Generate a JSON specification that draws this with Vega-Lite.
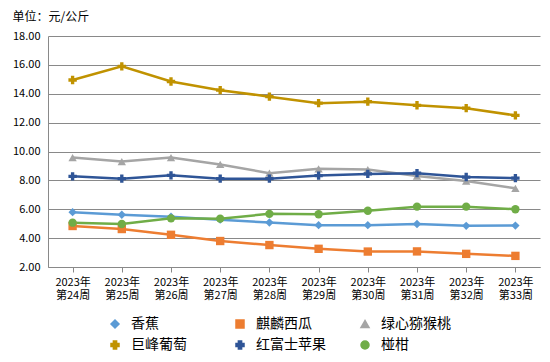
{
  "$schema": "https://vega.github.io/schema/vega-lite/v6.json",
  "width": 492,
  "height": 231,
  "autosize": "none",
  "padding": {"left": 48, "top": 36, "right": 10, "bottom": 95},
  "background": "white",
  "title": {"text": "单位：元/公斤", "anchor": "start", "frame": "bounds", "fontSize": 12, "fontWeight": "normal", "color": "#000000", "offset": 6},
  "config": {
    "font": "Noto Sans CJK SC",
    "view": {"stroke": null}
  },
  "data": {"values": [
    {"week": "2023年第24周", "series": "香蕉", "value": 5.8},
    {"week": "2023年第25周", "series": "香蕉", "value": 5.62},
    {"week": "2023年第26周", "series": "香蕉", "value": 5.48},
    {"week": "2023年第27周", "series": "香蕉", "value": 5.28},
    {"week": "2023年第28周", "series": "香蕉", "value": 5.08},
    {"week": "2023年第29周", "series": "香蕉", "value": 4.9},
    {"week": "2023年第30周", "series": "香蕉", "value": 4.9},
    {"week": "2023年第31周", "series": "香蕉", "value": 4.98},
    {"week": "2023年第32周", "series": "香蕉", "value": 4.85},
    {"week": "2023年第33周", "series": "香蕉", "value": 4.87},
    {"week": "2023年第24周", "series": "麒麟西瓜", "value": 4.84},
    {"week": "2023年第25周", "series": "麒麟西瓜", "value": 4.63},
    {"week": "2023年第26周", "series": "麒麟西瓜", "value": 4.23},
    {"week": "2023年第27周", "series": "麒麟西瓜", "value": 3.8},
    {"week": "2023年第28周", "series": "麒麟西瓜", "value": 3.52},
    {"week": "2023年第29周", "series": "麒麟西瓜", "value": 3.26},
    {"week": "2023年第30周", "series": "麒麟西瓜", "value": 3.07},
    {"week": "2023年第31周", "series": "麒麟西瓜", "value": 3.08},
    {"week": "2023年第32周", "series": "麒麟西瓜", "value": 2.91},
    {"week": "2023年第33周", "series": "麒麟西瓜", "value": 2.77},
    {"week": "2023年第24周", "series": "绿心猕猴桃", "value": 9.58},
    {"week": "2023年第25周", "series": "绿心猕猴桃", "value": 9.3},
    {"week": "2023年第26周", "series": "绿心猕猴桃", "value": 9.58},
    {"week": "2023年第27周", "series": "绿心猕猴桃", "value": 9.1},
    {"week": "2023年第28周", "series": "绿心猕猴桃", "value": 8.5},
    {"week": "2023年第29周", "series": "绿心猕猴桃", "value": 8.8},
    {"week": "2023年第30周", "series": "绿心猕猴桃", "value": 8.75},
    {"week": "2023年第31周", "series": "绿心猕猴桃", "value": 8.3},
    {"week": "2023年第32周", "series": "绿心猕猴桃", "value": 7.95},
    {"week": "2023年第33周", "series": "绿心猕猴桃", "value": 7.45},
    {"week": "2023年第24周", "series": "巨峰葡萄", "value": 14.95},
    {"week": "2023年第25周", "series": "巨峰葡萄", "value": 15.9},
    {"week": "2023年第26周", "series": "巨峰葡萄", "value": 14.85},
    {"week": "2023年第27周", "series": "巨峰葡萄", "value": 14.25},
    {"week": "2023年第28周", "series": "巨峰葡萄", "value": 13.8},
    {"week": "2023年第29周", "series": "巨峰葡萄", "value": 13.35},
    {"week": "2023年第30周", "series": "巨峰葡萄", "value": 13.45},
    {"week": "2023年第31周", "series": "巨峰葡萄", "value": 13.2},
    {"week": "2023年第32周", "series": "巨峰葡萄", "value": 13.0},
    {"week": "2023年第33周", "series": "巨峰葡萄", "value": 12.5},
    {"week": "2023年第24周", "series": "红富士苹果", "value": 8.28},
    {"week": "2023年第25周", "series": "红富士苹果", "value": 8.12},
    {"week": "2023年第26周", "series": "红富士苹果", "value": 8.35},
    {"week": "2023年第27周", "series": "红富士苹果", "value": 8.12},
    {"week": "2023年第28周", "series": "红富士苹果", "value": 8.12},
    {"week": "2023年第29周", "series": "红富士苹果", "value": 8.33},
    {"week": "2023年第30周", "series": "红富士苹果", "value": 8.45},
    {"week": "2023年第31周", "series": "红富士苹果", "value": 8.5},
    {"week": "2023年第32周", "series": "红富士苹果", "value": 8.23},
    {"week": "2023年第33周", "series": "红富士苹果", "value": 8.16},
    {"week": "2023年第24周", "series": "椪柑", "value": 5.07},
    {"week": "2023年第25周", "series": "椪柑", "value": 4.98},
    {"week": "2023年第26周", "series": "椪柑", "value": 5.37},
    {"week": "2023年第27周", "series": "椪柑", "value": 5.35},
    {"week": "2023年第28周", "series": "椪柑", "value": 5.68},
    {"week": "2023年第29周", "series": "椪柑", "value": 5.65},
    {"week": "2023年第30周", "series": "椪柑", "value": 5.9},
    {"week": "2023年第31周", "series": "椪柑", "value": 6.18},
    {"week": "2023年第32周", "series": "椪柑", "value": 6.18},
    {"week": "2023年第33周", "series": "椪柑", "value": 6.0}
  ]},
  "encoding": {
    "x": {
      "field": "week", "type": "nominal", "sort": null,
      "axis": {
        "title": null, "labelAngle": 0, "labelFontSize": 11, "labelColor": "#000000",
        "labelExpr": "[slice(datum.value,0,5), slice(datum.value,5)]",
        "labelLineHeight": 13,
        "labelPadding": 4, "tickSize": 5, "tickColor": "#898989",
        "domainColor": "#898989", "grid": false
      }
    },
    "y": {
      "field": "value", "type": "quantitative",
      "scale": {"domain": [2, 18], "nice": false},
      "axis": {
        "title": null, "values": [2, 4, 6, 8, 10, 12, 14, 16, 18], "format": ".2f",
        "labelFontSize": 11, "labelColor": "#000000", "labelPadding": 8,
        "ticks": false, "domainColor": "#898989",
        "grid": true, "gridColor": "#898989"
      }
    },
    "color": {
      "field": "series", "type": "nominal",
      "scale": {
        "domain": ["香蕉", "麒麟西瓜", "绿心猕猴桃", "巨峰葡萄", "红富士苹果", "椪柑"],
        "range": ["#5B9BD5", "#ED7D31", "#A5A5A5", "#C09200", "#2F5597", "#70AD47"]
      },
      "legend": {
        "title": null, "orient": "none", "legendX": 60, "legendY": 281,
        "direction": "horizontal", "columns": 3, "gridAlign": "all",
        "columnPadding": 32, "rowPadding": 7, "padding": 0,
        "labelFontSize": 14, "labelColor": "#000000", "labelOffset": 9,
        "symbolSize": 64
      }
    }
  },
  "layer": [
    {"mark": {"type": "line", "strokeWidth": 2.5}, "encoding": {}},
    {
      "mark": {"type": "point", "filled": true, "opacity": 1, "size": 70},
      "encoding": {
        "shape": {
          "field": "series", "type": "nominal", "legend": null,
          "scale": {
            "domain": ["香蕉", "麒麟西瓜", "绿心猕猴桃", "巨峰葡萄", "红富士苹果", "椪柑"],
            "range": ["diamond", "square", "triangle-up", "cross", "cross", "circle"]
          }
        }
      }
    }
  ]
}
